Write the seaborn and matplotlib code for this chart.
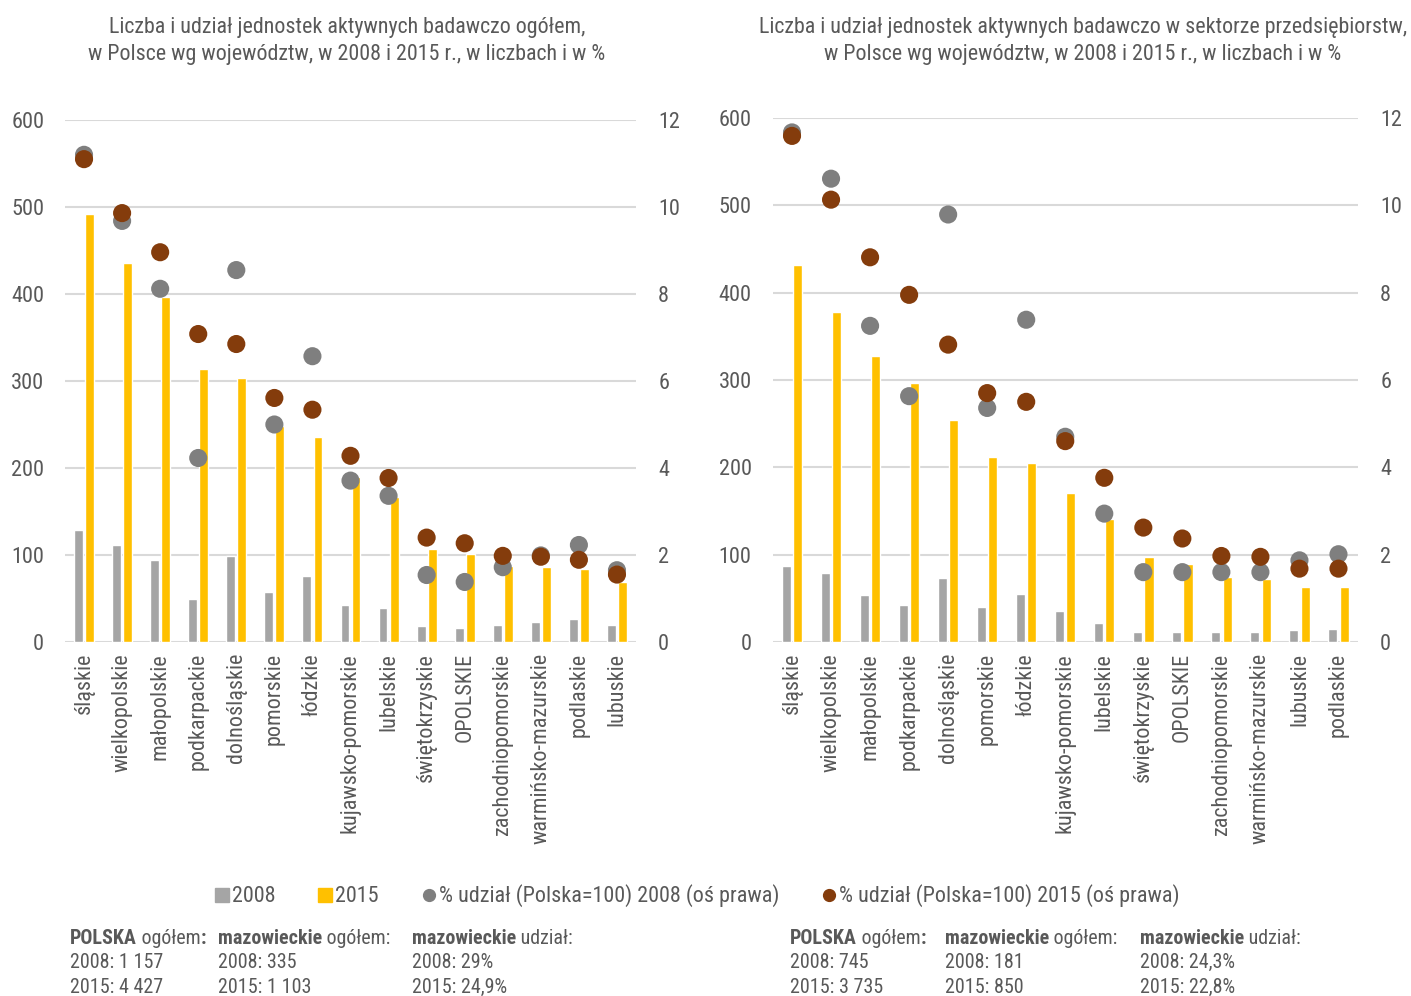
import matplotlib
matplotlib.use("Agg")
import matplotlib.pyplot as plt
from matplotlib import font_manager
from matplotlib.lines import Line2D
import seaborn as sns
import pandas as pd
import numpy as np

# ---------------- data ----------------
cats_left = ['śląskie', 'wielkopolskie', 'małopolskie', 'podkarpackie', 'dolnośląskie',
             'pomorskie', 'łódzkie', 'kujawsko-pomorskie', 'lubelskie', 'świętokrzyskie',
             'OPOLSKIE', 'zachodniopomorskie', 'warmińsko-mazurskie', 'podlaskie', 'lubuskie']
left_2008 = [129, 112, 94, 49, 99, 58, 76, 43, 39, 18, 16, 20, 23, 26, 19]
left_2015 = [492, 436, 396, 314, 304, 248, 236, 190, 167, 107, 101, 87, 86, 84, 69]
left_share_2008 = [11.2, 9.68, 8.12, 4.23, 8.55, 5.0, 6.57, 3.71, 3.36, 1.54, 1.38, 1.72, 1.99, 2.23, 1.65]
left_share_2015 = [11.1, 9.86, 8.96, 7.08, 6.85, 5.61, 5.34, 4.28, 3.77, 2.40, 2.27, 1.98, 1.96, 1.89, 1.55]

cats_right = ['śląskie', 'wielkopolskie', 'małopolskie', 'podkarpackie', 'dolnośląskie',
              'pomorskie', 'łódzkie', 'kujawsko-pomorskie', 'lubelskie', 'świętokrzyskie',
              'OPOLSKIE', 'zachodniopomorskie', 'warmińsko-mazurskie', 'lubuskie', 'podlaskie']
right_2008 = [87, 79, 54, 42, 73, 40, 55, 35, 22, 12, 12, 12, 12, 14, 15]
right_2015 = [432, 378, 328, 296, 254, 212, 205, 171, 141, 97, 89, 74, 72, 63, 63]
right_share_2008 = [11.67, 10.61, 7.24, 5.63, 9.79, 5.36, 7.38, 4.70, 2.94, 1.60, 1.60, 1.60, 1.60, 1.87, 2.01]
right_share_2015 = [11.59, 10.13, 8.81, 7.95, 6.81, 5.70, 5.50, 4.60, 3.76, 2.62, 2.37, 1.97, 1.95, 1.68, 1.68]

title_left = "Liczba i udział jednostek aktywnych badawczo ogółem,\nw Polsce wg województw, w 2008 i 2015 r., w liczbach i w %"
title_right = "Liczba i udział jednostek aktywnych badawczo w sektorze przedsiębiorstw,\nw Polsce wg województw, w 2008 i 2015 r., w liczbach i w %"
left_ticks = [0, 100, 200, 300, 400, 500, 600]
right_ticks = [0, 2, 4, 6, 8, 10, 12]
legend_labels = ['2008', '2015', '% udział (Polska=100) 2008 (oś prawa)', '% udział (Polska=100) 2015 (oś prawa)']

notes_left = [
    [[("POLSKA", True), (" ogółem", False), (":", True)], [("2008: 1 157", False)], [("2015: 4 427", False)]],
    [[("mazowieckie", True), (" ogółem:", False)], [("2008: 335", False)], [("2015: 1 103", False)]],
    [[("mazowieckie", True), (" udział:", False)], [("2008: 29%", False)], [("2015: 24,9%", False)]],
]
notes_right = [
    [[("POLSKA", True), (" ogółem", False), (":", True)], [("2008: 745", False)], [("2015: 3 735", False)]],
    [[("mazowieckie", True), (" ogółem:", False)], [("2008: 181", False)], [("2015: 850", False)]],
    [[("mazowieckie", True), (" udział:", False)], [("2008: 24,3%", False)], [("2015: 22,8%", False)]],
]

# ---------------- style ----------------
C2008 = '#A5A5A5'
C2015 = '#FFC000'
CDOT08 = '#7F7F7F'
CDOT15 = '#843C0C'
TXT = '#595959'
GRID = '#D9D9D9'

sns.set_theme(style='white')
names = sorted({f.name for f in font_manager.fontManager.ttflist})
cond = [n for n in names if ('Narrow' in n or 'Condensed' in n)]
pref = ['Liberation Sans Narrow', 'Roboto Condensed', 'Open Sans Condensed', 'DejaVu Sans Condensed']
FONT = next((p for p in pref if p in names), cond[0] if cond else 'Liberation Sans')
plt.rcParams['font.family'] = [FONT, 'DejaVu Sans']
plt.rcParams['text.color'] = TXT

W, H = 1411, 996
fig = plt.figure(figsize=(W / 100, H / 100), dpi=100)
fig.canvas.draw()
renderer = fig.canvas.get_renderer()


def width_px(parts, size):
    tot = 0
    for txt, bold in parts:
        t = fig.text(0, 0, txt, fontsize=size, fontweight='bold' if bold else 'normal')
        tot += t.get_window_extent(renderer=renderer).width
        t.remove()
    return tot


def fit_size(parts, target, base=16.0):
    return base * target / width_px(parts, base)


# font sizes fitted to the widths measured on the reference
FS_TITLE = fit_size([("Liczba i udział jednostek aktywnych badawczo ogółem,", False)], 477)
FS_TICK = fit_size([("600", False)], 33)
FS_CAT = fit_size([("kujawsko-pomorskie", False)], 180)
FS_LEG = fit_size([("% udział (Polska=100) 2008 (oś prawa)", False)], 342)
FS_NOTE = fit_size([("mazowieckie", True), (" ogółem:", False)], 173)


def px_axes(x0, x1, ytop, ybot):
    return fig.add_axes([x0 / W, 1 - ybot / H, (x1 - x0) / W, (ybot - ytop) / H])


def draw_panel(ax, cats, v08, v15, s08, s15, title, title_x):
    df = pd.DataFrame({
        'cat': cats * 2,
        'year': ['2008'] * len(cats) + ['2015'] * len(cats),
        'val': list(v08) + list(v15),
    })
    sns.barplot(data=df, x='cat', y='val', hue='year', order=cats,
                palette={'2008': C2008, '2015': C2015}, width=0.58, gap=0.2,
                saturation=1, ax=ax, legend=False, err_kws={'linewidth': 0})
    ax.set_xlim(-0.5, len(cats) - 0.5)
    ax.set_ylim(0, 600)
    ax.set_yticks(left_ticks)
    ax.yaxis.grid(True, color=GRID, linewidth=1.5)
    ax.set_axisbelow(True)
    for s in ax.spines.values():
        s.set_visible(False)
    ax.set_xlabel('')
    ax.set_ylabel('')
    ax.tick_params(axis='y', length=0, pad=15, labelsize=FS_TICK, labelcolor=TXT)
    ax.tick_params(axis='x', length=0, pad=8, labelsize=FS_CAT, labelcolor=TXT)
    ax.set_xticks(range(len(cats)))
    ax.set_xticklabels(cats, rotation=90, va='top', ha='center')

    ax2 = ax.twinx()
    xs = np.arange(len(cats))
    sns.scatterplot(x=xs, y=s08, color=CDOT08, s=170, edgecolor='none', ax=ax2, zorder=3)
    sns.scatterplot(x=xs, y=s15, color=CDOT15, s=170, edgecolor='none', ax=ax2, zorder=4)
    ax2.set_ylim(0, 12)
    ax2.set_yticks(right_ticks)
    ax2.set_xlim(-0.5, len(cats) - 0.5)
    for s in ax2.spines.values():
        s.set_visible(False)
    ax2.set_ylabel('')
    ax2.tick_params(axis='y', length=0, pad=16, labelsize=FS_TICK, labelcolor=TXT)
    ax2.grid(False)

    fig.text(title_x / W, 1 - 41 / H, title, ha='center', va='center',
             fontsize=FS_TITLE, color=TXT, linespacing=1.4)


axL = px_axes(65, 636, 120, 642)
draw_panel(axL, cats_left, left_2008, left_2015, left_share_2008, left_share_2015, title_left, 347)
axR = px_axes(772.5, 1358, 118, 642)
draw_panel(axR, cats_right, right_2008, right_2015, right_share_2008, right_share_2015, title_right, 1083)

# legend
handles = [
    Line2D([], [], marker='s', color=C2008, linestyle='none', markersize=9.5),
    Line2D([], [], marker='s', color=C2015, linestyle='none', markersize=9.5),
    Line2D([], [], marker='o', color=CDOT08, linestyle='none', markersize=8.5),
    Line2D([], [], marker='o', color=CDOT15, linestyle='none', markersize=8.5),
]
fig.legend(handles, legend_labels, loc='center', bbox_to_anchor=(697 / W, 1 - 896 / H),
           ncol=4, frameon=False, fontsize=FS_LEG, handletextpad=0.1, columnspacing=1.9,
           handlelength=0.7, labelcolor=TXT)


def rich(x, y, parts, size):
    cx = x
    for txt, bold in parts:
        t = fig.text(cx / W, 1 - y / H, txt, ha='left', va='center', fontsize=size,
                     fontweight='bold' if bold else 'normal', color=TXT)
        cx += t.get_window_extent(renderer=renderer).width


def notes(block, xs):
    ys = [938, 962, 987]
    for col, x in zip(block, xs):
        for line, y in zip(col, ys):
            rich(x, y, line, FS_NOTE)


notes(notes_left, [70, 218, 412])
notes(notes_right, [790, 945, 1140])

fig.savefig('out.png', dpi=100)
